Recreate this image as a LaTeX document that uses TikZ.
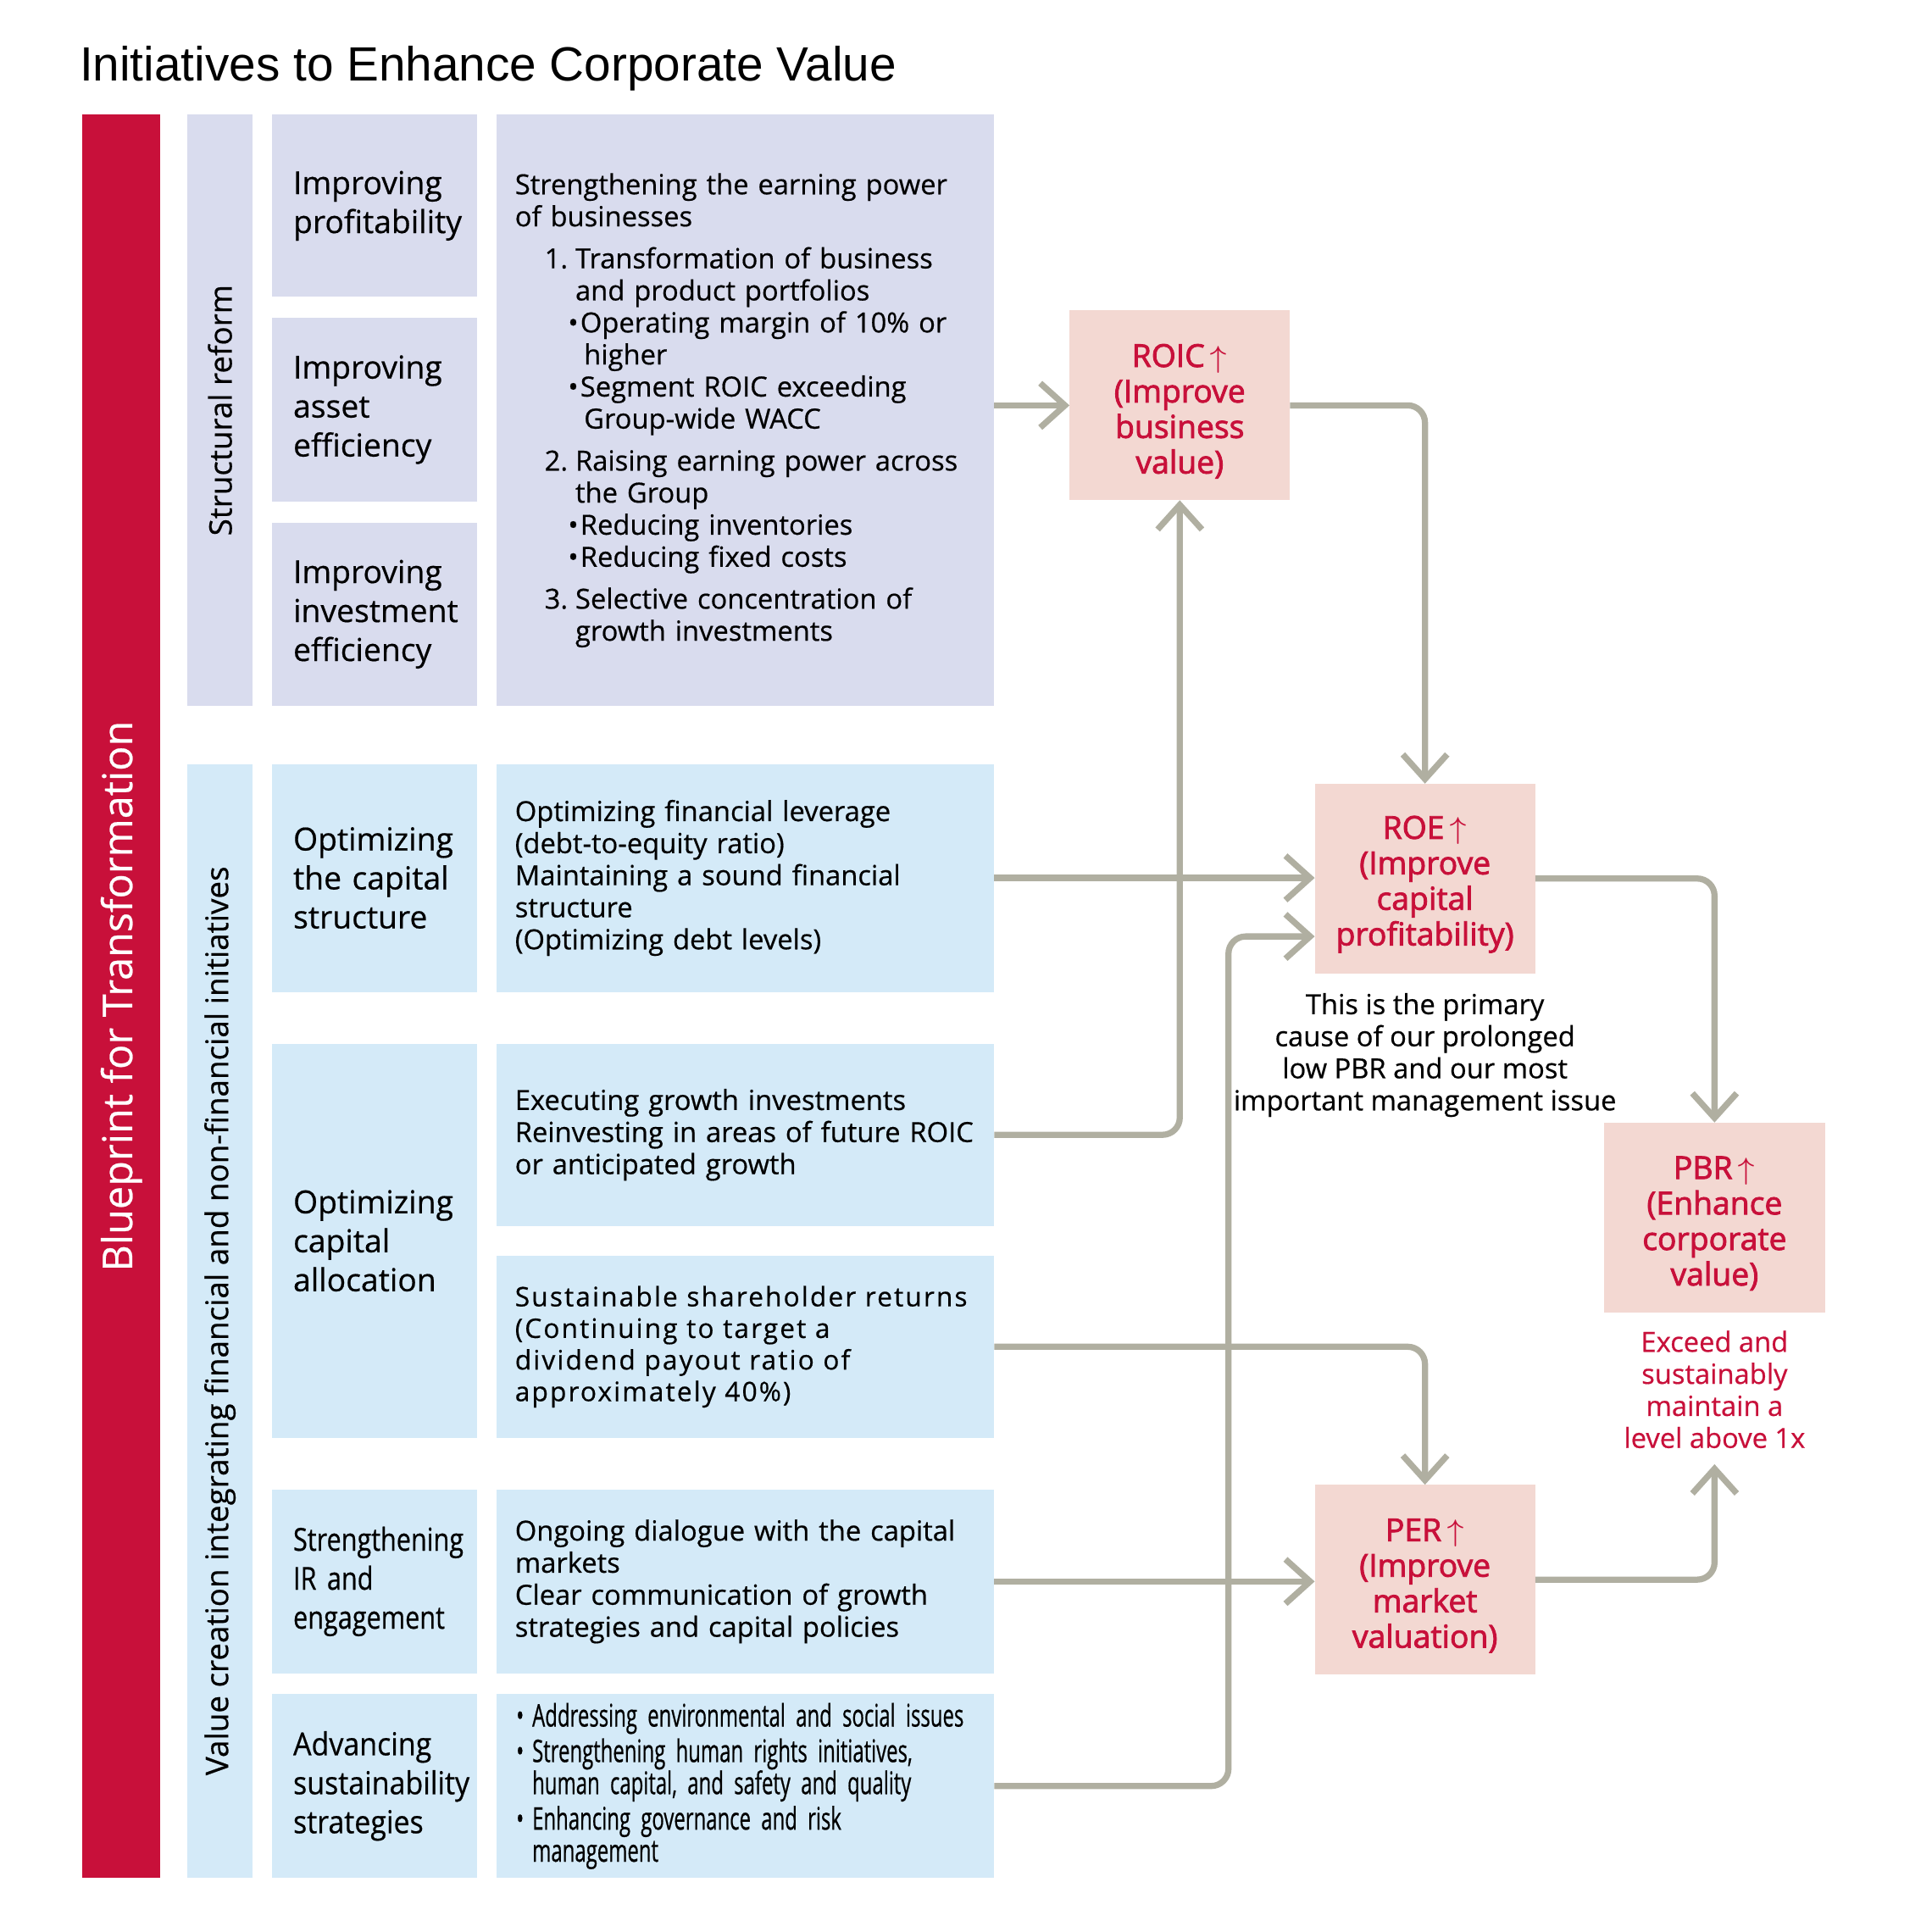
\documentclass[tikz,border=0pt]{standalone}
\usepackage{fontspec}
\setmainfont[FakeBold=0.5]{Open Sans}
\newfontfamily\titlefont{Liberation Sans}
\newfontfamily\midfont[FakeBold=2.2]{Open Sans}
\newfontfamily\trimfont[FakeStretch=0.91,FakeBold=0.5]{Open Sans}
\newfontfamily\narrowfont[FakeStretch=0.82,FakeBold=0.5]{Open Sans}
\newfontfamily\slimfont[FakeStretch=0.65,FakeBold=0.5]{Open Sans}
\newfontfamily\widefont[LetterSpace=6.6,FakeBold=0.5]{Open Sans}
\usepackage{tikz}
\usetikzlibrary{arrows.meta,positioning,calc}

\definecolor{bpred}{RGB}{200,16,58}
\definecolor{lav}{RGB}{217,220,238}
\definecolor{sky}{RGB}{212,234,248}
\definecolor{rose}{RGB}{243,216,210}
\definecolor{flowgray}{RGB}{176,175,161}

\newcommand{\fsbody}{\fontsize{6.4}{7.4}\selectfont}
\newcommand{\fslabel}{\fontsize{7.3}{9}\selectfont}
\newcommand{\fsband}{\fontsize{7.2}{8.6}\selectfont}
\newcommand{\fsbar}{\fontsize{9.5}{11}\selectfont}
\newcommand{\stepno}[1]{\hspace*{2.4mm}\makebox[2.5mm][l]{#1}}
\newcommand{\subdot}{\hspace*{4.3mm}\makebox[1mm][l]{•}}
\newcommand{\esgdot}{\hspace*{0.1mm}\makebox[1.3mm][l]{•}}
\newcommand{\kpihead}[1]{\rule{0pt}{8pt}#1\,$\uparrow$}

\begin{document}
\begin{tikzpicture}[x=1mm,y=-1mm,node distance=1.2mm]
  \tikzstyle{blk}=[anchor=north west,inner sep=0pt,outer sep=0pt]
  \tikzstyle{cell}=[blk,minimum width=16.6mm,text width=13.2mm,inner xsep=1.7mm,align=left,font=\fslabel]
  \tikzstyle{detail}=[blk,minimum width=40.4mm,text width=37.4mm,inner xsep=1.5mm,align=left,font=\fsbody]
  \tikzstyle{kpi}=[blk,fill=rose,minimum width=17.9mm,minimum height=15.4mm,align=center,text=bpred,font=\midfont\fontsize{7.3}{8.2}\selectfont]
  \tikzstyle{note}=[inner sep=0pt,outer sep=0pt,align=center,font=\fsbody]
  \tikzstyle{flow}=[draw=flowgray,line width=0.5mm,rounded corners=1.4mm,-{Straight Barb[length=2mm,width=3.6mm]}]
  \useasboundingbox (0,0) rectangle (156.8,156.8);

  \node[anchor=base west,inner sep=0pt,font=\titlefont\fontsize{11.1}{13}\selectfont] (title) at (6.4,6.6) {Initiatives to Enhance Corporate Value};

  % left bands
  \node[blk,fill=bpred,minimum width=6.3mm,minimum height=143.1mm] (bar) at (6.7,9.3) {};
  \node[rotate=90,text=white,font=\fsbar] (bartxt) at (bar.center) {Blueprint for Transformation};
  \node[blk,fill=lav,minimum width=5.3mm,minimum height=48mm] (reform) at (15.2,9.3) {};
  \node[rotate=90,font=\fsband] (reformtxt) at (reform.center) {Structural reform};
  \node[blk,fill=sky,minimum width=5.3mm,minimum height=90.4mm] (valcre) at (15.2,62) {};
  \node[rotate=90,font=\fsband] (valcretxt) at (valcre.center) {Value creation integrating financial and non-financial initiatives};

  % initiatives
  \node[cell,fill=lav,minimum height=14.8mm] (prof) at (22.1,9.3) {Improving\\profitability};
  \node[cell,fill=lav,minimum height=14.9mm] (asset) at (22.1,25.8) {Improving\\asset\\efficiency};
  \node[cell,fill=lav,minimum height=14.9mm] (invest) at (22.1,42.4) {Improving\\investment\\efficiency};
  \node[cell,fill=sky,minimum height=18.5mm] (capstr) at (22.1,62) {Optimizing\\the capital\\structure};
  \node[cell,fill=sky,minimum height=32mm] (alloc) at (22.1,84.7) {Optimizing\\capital\\allocation};
  \node[cell,fill=sky,minimum height=14.9mm,font=\narrowfont\fslabel] (irlab) at (22.1,120.9) {Strengthening\\IR and\\engagement};
  \node[cell,fill=sky,minimum height=14.9mm,font=\trimfont\fslabel] (sustlab) at (22.1,137.5) {Advancing\\sustainability\\strategies};

  % measures
  \node[detail,fill=lav,minimum height=48mm] (earn) at (40.3,9.3) {Strengthening the earning power\\
    of businesses\\[2.3pt]
    \stepno{1.}Transformation of business\\
    \hspace*{4.9mm}and product portfolios\\
    \subdot Operating margin of 10\% or\\
    \hspace*{5.6mm}higher\\
    \subdot Segment ROIC exceeding\\
    \hspace*{5.6mm}Group-wide WACC\\[2.3pt]
    \stepno{2.}Raising earning power across\\
    \hspace*{4.9mm}the Group\\
    \subdot Reducing inventories\\
    \subdot Reducing fixed costs\\[2.3pt]
    \stepno{3.}Selective concentration of\\
    \hspace*{4.9mm}growth investments};
  \node[detail,fill=sky,minimum height=18.5mm] (lever) at (40.3,62) {Optimizing financial leverage\\(debt-to-equity ratio)\\Maintaining a sound financial\\structure\\(Optimizing debt levels)};
  \node[detail,fill=sky,minimum height=14.8mm] (growth) at (40.3,84.7) {Executing growth investments\\Reinvesting in areas of future ROIC\\or anticipated growth};
  \node[detail,fill=sky,minimum height=14.8mm,font=\widefont\fontsize{6.2}{7.3}\selectfont] (share) at (40.3,101.9) {Sustainable shareholder returns\\(Continuing to target a\\dividend payout ratio of\\approximately 40\%)};
  \node[detail,fill=sky,minimum height=14.9mm] (dialog) at (40.3,120.9) {Ongoing dialogue with the capital\\markets\\Clear communication of growth\\strategies and capital policies};
  \node[detail,fill=sky,minimum height=14.9mm,font=\slimfont\fontsize{7.2}{7.4}\selectfont] (esg) at (40.3,137.5) {\esgdot Addressing environmental and social issues\\[0.8pt]
    \esgdot Strengthening human rights initiatives,\\
    \hspace*{1.4mm}human capital, and safety and quality\\[0.8pt]
    \esgdot Enhancing governance and risk\\
    \hspace*{1.4mm}management};

  % indicators
  \node[kpi] (roic) at (86.8,25.2) {\kpihead{ROIC}\\(Improve\\business\\value)};
  \node[kpi] (roe) at (106.7,63.6) {\kpihead{ROE}\\(Improve\\capital\\profitability)};
  \node[kpi] (pbr) at (130.2,91.1) {\kpihead{PBR}\\(Enhance\\corporate\\value)};
  \node[kpi] (per) at (106.7,120.5) {\kpihead{PER}\\(Improve\\market\\valuation)};
  \node[note,below=1.6mm of roe] (roenote) {This is the primary\\cause of our prolonged\\low PBR and our most\\important management issue};
  \node[note,text=bpred,below=1.5mm of pbr] (pbrnote) {Exceed and\\sustainably\\maintain a\\level above 1x};

  % flows into the indicators
  \draw[flow] (earn.east |- roic.west) -- (roic.west);
  \draw[flow] (roic.east) -| (roe.north);
  \draw[flow] (lever.east) -- (lever.east -| roe.west);
  \draw[flow] (growth.east) -| (roic.south);
  \draw[flow] (share.east) -| (per.north);
  \draw[flow] (dialog.east) -- (dialog.east -| per.west);
  \draw[flow] (esg.east) -| ($(roe.west)+(-7,4.7)$) -- ($(roe.west)+(0,4.7)$);
  \draw[flow] (roe.east) -| (pbr.north);
  \draw[flow] (per.east) -| ([yshift=-1.3mm]pbrnote.south);
\end{tikzpicture}
\end{document}
